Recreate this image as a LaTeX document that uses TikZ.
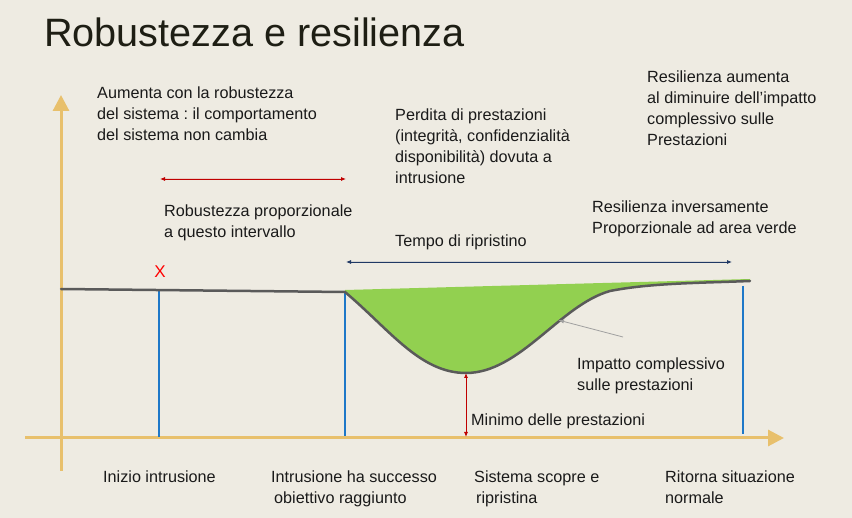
\documentclass[tikz,border=0pt]{standalone}
\usepackage{fontspec}
\setmainfont{Liberation Sans}
\usetikzlibrary{arrows.meta}
\frenchspacing
\definecolor{bg}{HTML}{EEEBE2}
\definecolor{axis}{HTML}{E8C06C}
\definecolor{bluel}{HTML}{1E78C8}
\definecolor{greenf}{HTML}{92D050}
\definecolor{curve}{HTML}{5A5A5A}
\definecolor{redarr}{HTML}{C00000}
\definecolor{navyarr}{HTML}{1F3864}
\definecolor{grayarr}{HTML}{A0A0A0}
\definecolor{titlec}{HTML}{1E1E14}
\definecolor{textc}{HTML}{1A1A1A}
\tikzset{
  lbl/.style={anchor=north west, inner sep=0pt, align=left, text=textc,
    font=\fontsize{16.2}{21}\selectfont},
  blbl/.style={anchor=north west, inner sep=0pt, align=left, text=textc,
    font=\fontsize{16.2}{20.5}\selectfont},
  axisline/.style={draw=axis, line width=3pt, -{Triangle[length=16pt,width=16pt]}},
  tick/.style={draw=bluel, line width=2pt},
  perf/.style={draw=curve, line width=2.5pt},
  thinarr/.style={line width=0.8pt, {Latex[length=5pt,width=4pt]}-{Latex[length=5pt,width=4pt]}},
}
\begin{document}
\begin{tikzpicture}[x=1pt,y=-1pt]
\fill[bg] (0,0) rectangle (852,518);
\useasboundingbox (0,0) rectangle (852,518);

% title
\node[anchor=base west, inner sep=0pt, text=titlec, font=\fontsize{39.6}{42}\selectfont] (title) at (44,47) {Robustezza e resilienza};

% axes
\coordinate (yb) at (61,471);
\coordinate (yt) at (61,95);
\coordinate (xl) at (25,438);
\coordinate (xr) at (784,438);
\draw[axisline] (yb) -- (yt);
\draw[axisline] (xl) -- (xr);

% performance line points
\coordinate (p0) at (61,289);
\coordinate (p1) at (345,292);
\coordinate (pm) at (466,373);
\coordinate (p2) at (610,291);
\coordinate (p3) at (750,281);
\coordinate (g1) at (345,290);
\coordinate (g3) at (750,279);

% green area
\fill[greenf] (g1) -- (p1) .. controls (390,330) and (420,373) .. (pm)
  .. controls (520,373) and (560,305) .. (p2)
  .. controls (650,283) and (700,283) .. (p3) -- (g3) -- cycle;

% blue verticals
\coordinate (b1t) at (159,291);
\coordinate (b1b) at (159,437);
\coordinate (b2t) at (345,292);
\coordinate (b2b) at (345,436);
\coordinate (b3t) at (743,286);
\coordinate (b3b) at (743,434);
\draw[tick] (b1t) -- (b1b);
\draw[tick] (b2t) -- (b2b);
\draw[tick] (b3t) -- (b3b);

% performance curve
\draw[perf, line cap=round] (p0) -- (p1) .. controls (390,330) and (420,373) .. (pm)
  .. controls (520,373) and (560,305) .. (p2)
  .. controls (650,283) and (700,283) .. (p3);

% X mark
\node[text=red, inner sep=0pt, font=\fontsize{17}{18}\selectfont] (xmark) at (160,271.5) {X};

% red double arrow (robustezza)
\coordinate (ra1) at (160,179);
\coordinate (ra2) at (346,179);
\draw[thinarr, draw=redarr, fill=redarr] (ra1) -- (ra2);

% navy double arrow (tempo)
\coordinate (na1) at (346,262);
\coordinate (na2) at (732,262);
\draw[thinarr, draw=navyarr, fill=navyarr] (na1) -- (na2);

% red vertical arrow (minimo)
\coordinate (ma1) at (466,373);
\coordinate (ma2) at (466,437);
\draw[thinarr, draw=redarr, fill=redarr] (ma1) -- (ma2);

% gray pointer
\coordinate (ga1) at (623,337);
\coordinate (ga2) at (558,320);
\draw[grayarr, line width=0.8pt, -{Latex[length=6pt,width=4pt]}] (ga1) -- (ga2);

% texts
\node[lbl] (t1) at (97,87) {Aumenta con la robustezza\\del sistema : il comportamento\\del sistema non cambia};
\node[lbl] (t2) at (164,205) {Robustezza proporzionale\\a questo intervallo};
\node[lbl] (t3) at (395,109) {Perdita di prestazioni\\(integrità, confidenzialità\\disponibilità) dovuta a\\intrusione};
\node[lbl] (t4) at (647,71) {Resilienza aumenta\\al diminuire dell’impatto\\complessivo sulle\\Prestazioni};
\node[lbl] (t5) at (592,201) {Resilienza inversamente\\Proporzionale ad area verde};
\node[lbl] (t6) at (395,234.5) {Tempo di ripristino};
\node[lbl] (t7) at (577,358) {Impatto complessivo\\sulle prestazioni};
\node[lbl] (t8) at (471,414) {Minimo delle prestazioni};

\node[blbl] (l1) at (103,471) {Inizio intrusione};
\node[blbl] (l2) at (271,471) {Intrusione ha successo\\\hspace*{3pt}obiettivo raggiunto};
\node[blbl] (l3) at (474,471) {Sistema scopre e\\\hspace*{2pt}ripristina};
\node[blbl] (l4) at (665,471) {Ritorna situazione\\normale};
\end{tikzpicture}
\end{document}
